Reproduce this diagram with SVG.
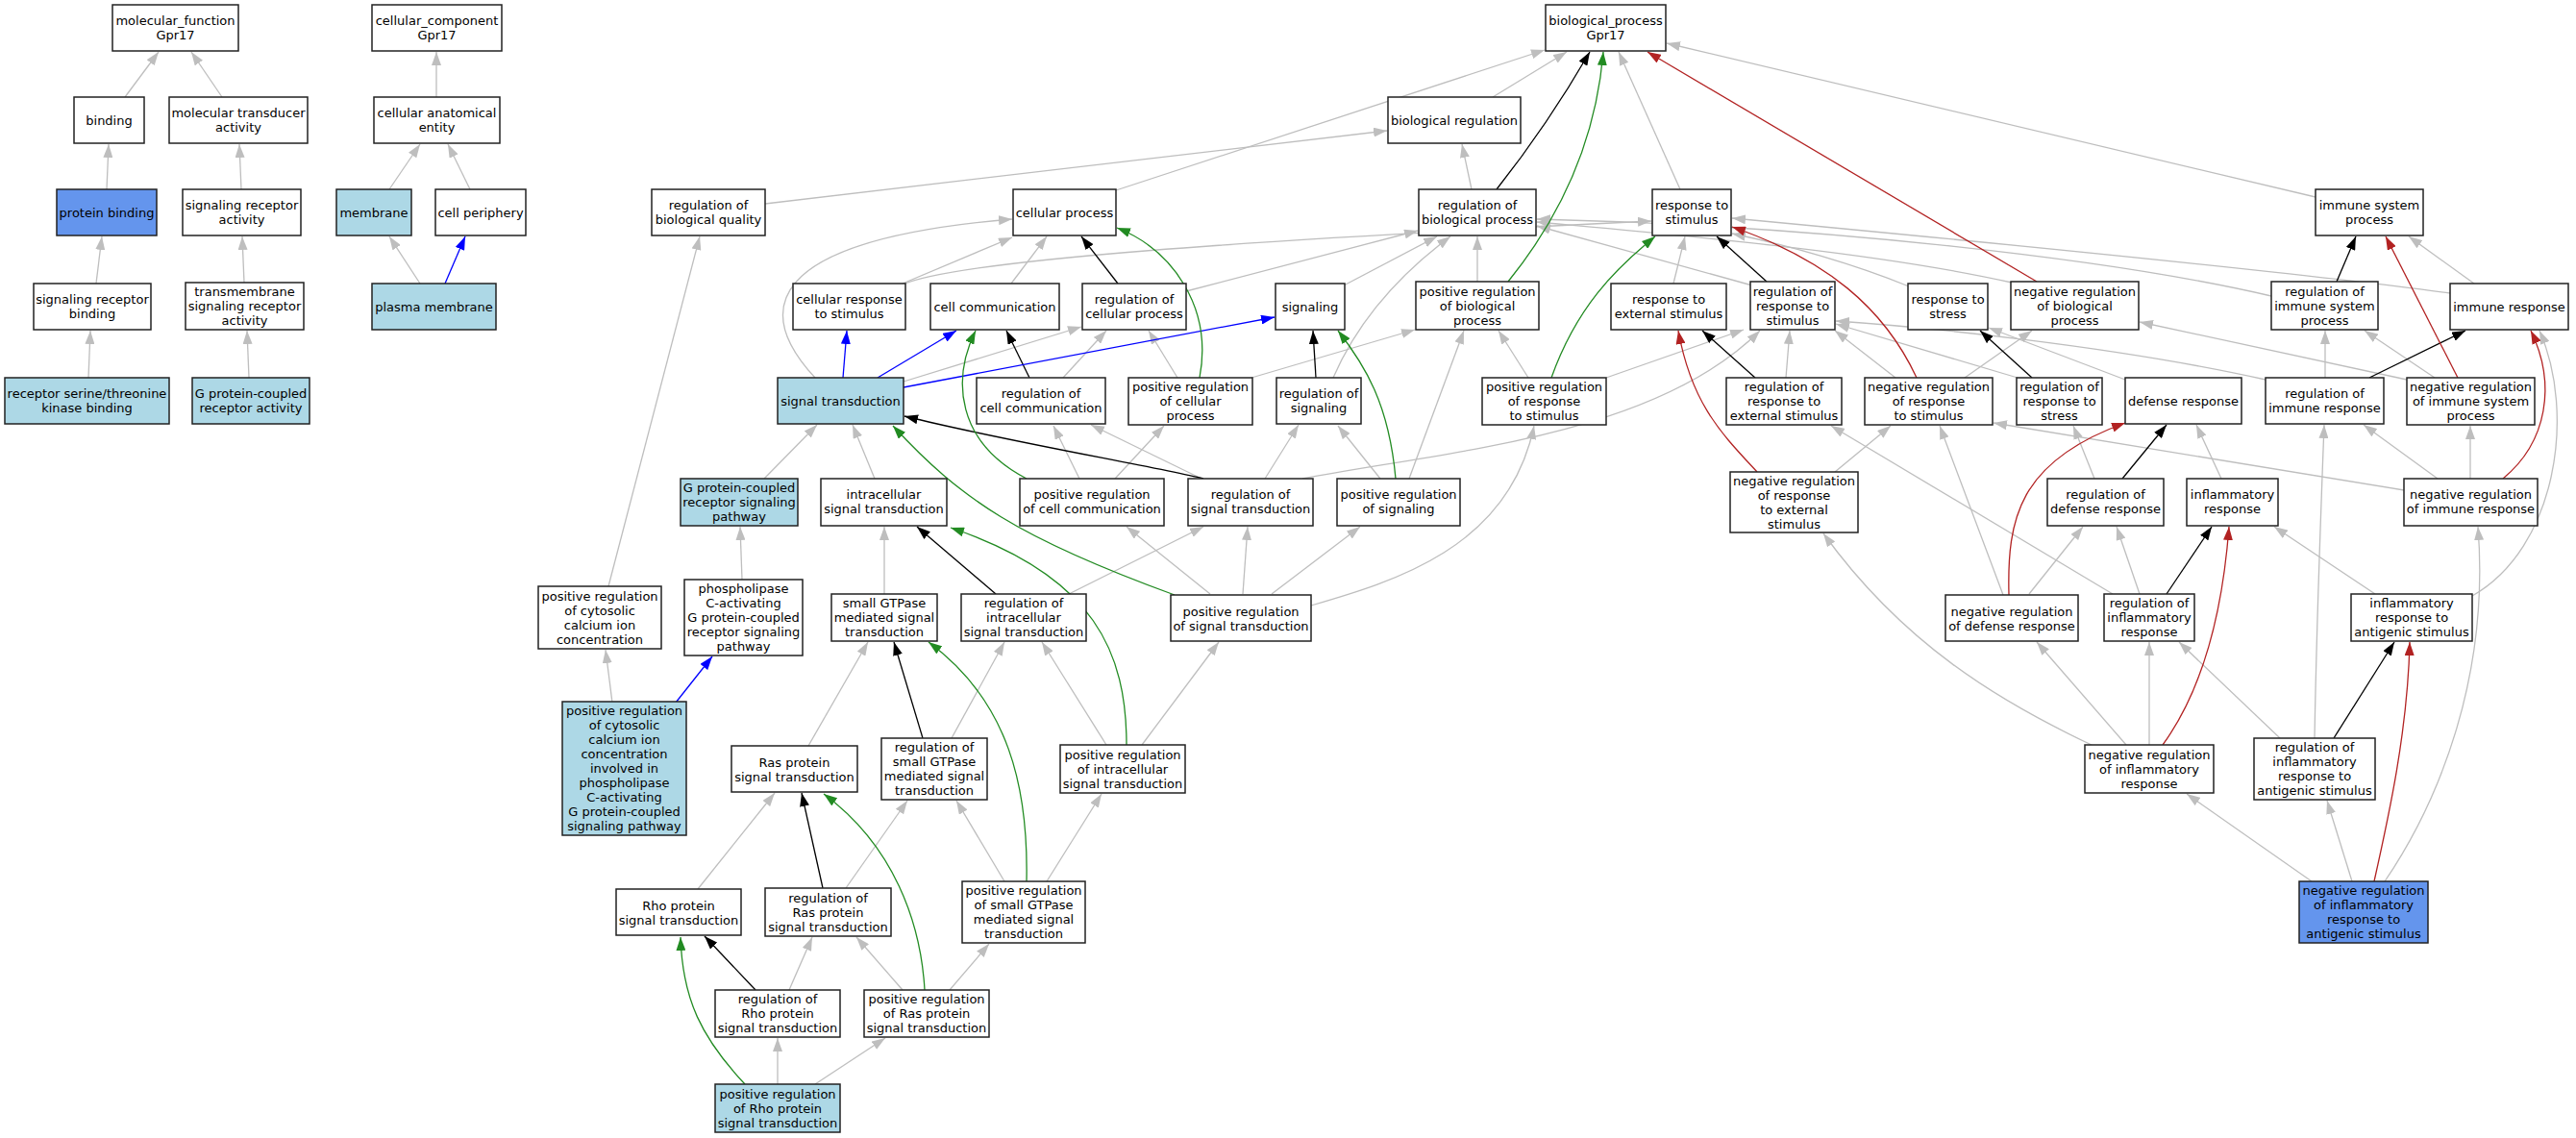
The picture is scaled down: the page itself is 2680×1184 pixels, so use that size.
<svg xmlns="http://www.w3.org/2000/svg" width="2680" height="1184" viewBox="0 0 2680 1184">
<defs>
<style>
.n rect{fill:#fff;stroke:#222;stroke-width:1.5}
.n.lb rect{fill:#ADD8E6}
.n.cb rect{fill:#6495ED}
.n text{font-family:"DejaVu Sans","Liberation Sans",sans-serif;font-size:13px;fill:#000;text-anchor:middle}
#edges path{fill:none;stroke-width:1.3}
#edges .g{stroke:#BEBEBE;marker-end:url(#ag)}
#edges .k{stroke:#000;marker-end:url(#ak)}
#edges .b{stroke:#0000FF;marker-end:url(#ab)}
#edges .gr{stroke:#228B22;marker-end:url(#agr)}
#edges .r{stroke:#B22222;marker-end:url(#ar)}
</style>
<marker id="ag" viewBox="0 0 14 10" refX="14" refY="5" markerWidth="14" markerHeight="10" orient="auto" markerUnits="userSpaceOnUse"><path d="M0,0 L14,5 L0,10 z" fill="#BEBEBE"/></marker>
<marker id="ak" viewBox="0 0 14 10" refX="14" refY="5" markerWidth="14" markerHeight="10" orient="auto" markerUnits="userSpaceOnUse"><path d="M0,0 L14,5 L0,10 z" fill="#000"/></marker>
<marker id="ab" viewBox="0 0 14 10" refX="14" refY="5" markerWidth="14" markerHeight="10" orient="auto" markerUnits="userSpaceOnUse"><path d="M0,0 L14,5 L0,10 z" fill="#0000FF"/></marker>
<marker id="agr" viewBox="0 0 14 10" refX="14" refY="5" markerWidth="14" markerHeight="10" orient="auto" markerUnits="userSpaceOnUse"><path d="M0,0 L14,5 L0,10 z" fill="#228B22"/></marker>
<marker id="ar" viewBox="0 0 14 10" refX="14" refY="5" markerWidth="14" markerHeight="10" orient="auto" markerUnits="userSpaceOnUse"><path d="M0,0 L14,5 L0,10 z" fill="#B22222"/></marker>
</defs>
<rect x="0" y="0" width="2680" height="1184" fill="#fff"/>
<g id="edges">
<path class="g" d="M130,101 L165,54"/>
<path class="g" d="M231,101 L199,54"/>
<path class="g" d="M111,197 L113,150"/>
<path class="g" d="M251,197 L249,150"/>
<path class="g" d="M100,295 L106,246"/>
<path class="g" d="M254,294 L252,246"/>
<path class="g" d="M92,393 L94,344"/>
<path class="g" d="M259,393 L257,344"/>
<path class="g" d="M454,101 L454,54"/>
<path class="g" d="M405,197 L437,150"/>
<path class="g" d="M489,197 L466,150"/>
<path class="g" d="M437,295 L405,246"/>
<path class="g" d="M1553,101 L1630,54"/>
<path class="g" d="M1161,198 L1607,52"/>
<path class="g" d="M796,212 L1443,136"/>
<path class="g" d="M1531,197 L1521,150"/>
<path class="g" d="M1748,197 L1684,54"/>
<path class="g" d="M2409,205 L1734,45"/>
<path class="g" d="M848,393 C785,325 790,250 1053,228"/>
<path class="g" d="M940,397 L1125,340"/>
<path class="g" d="M939,295 L1053,247"/>
<path class="g" d="M939,296 C1000,270 1300,250 1718,230"/>
<path class="g" d="M1052,295 L1089,246"/>
<path class="g" d="M1234,303 L1475,240"/>
<path class="g" d="M1225,393 L1195,344"/>
<path class="g" d="M1302,393 L1472,343"/>
<path class="g" d="M1106,393 L1151,344"/>
<path class="g" d="M1123,498 L1096,443"/>
<path class="g" d="M1160,498 L1211,443"/>
<path class="g" d="M1398,297 L1495,246"/>
<path class="g" d="M1387,393 C1410,340 1450,290 1509,246"/>
<path class="g" d="M1436,498 L1392,443"/>
<path class="g" d="M1466,498 L1523,344"/>
<path class="g" d="M1590,393 L1559,344"/>
<path class="g" d="M1671,393 L1814,343"/>
<path class="g" d="M1537,293 L1537,246"/>
<path class="g" d="M1823,297 L1599,235"/>
<path class="g" d="M2093,294 C1950,262 1750,245 1599,231"/>
<path class="g" d="M2363,308 C2200,270 1900,235 1599,228"/>
<path class="g" d="M2549,305 C2400,285 2100,255 1802,227"/>
<path class="g" d="M1741,295 L1753,246"/>
<path class="g" d="M1986,298 C1930,275 1860,255 1802,243"/>
<path class="g" d="M1858,393 L1862,344"/>
<path class="g" d="M1972,393 L1909,344"/>
<path class="g" d="M1355,498 C1500,470 1720,455 1831,344"/>
<path class="g" d="M2099,393 L1910,337"/>
<path class="g" d="M2357,395 C2200,360 2000,340 1910,334"/>
<path class="g" d="M2044,393 L2114,344"/>
<path class="g" d="M2504,395 L2226,335"/>
<path class="g" d="M2211,395 L2069,341"/>
<path class="g" d="M2311,498 L2285,442"/>
<path class="g" d="M2179,498 L2157,443"/>
<path class="g" d="M2111,618 L2167,548"/>
<path class="g" d="M2226,618 L2202,548"/>
<path class="g" d="M2471,618 L2366,548"/>
<path class="g" d="M2198,618 L1905,443"/>
<path class="g" d="M2084,619 L2018,443"/>
<path class="g" d="M1909,491 L1967,443"/>
<path class="g" d="M2212,775 L2119,668"/>
<path class="g" d="M2236,775 L2236,668"/>
<path class="g" d="M2178,776 C2080,730 1980,670 1897,555"/>
<path class="g" d="M2372,768 L2267,668"/>
<path class="g" d="M2408,768 C2410,650 2415,520 2418,442"/>
<path class="g" d="M2536,498 L2459,442"/>
<path class="g" d="M2570,498 L2570,443"/>
<path class="g" d="M2501,510 L2074,440"/>
<path class="g" d="M2481,917 C2540,830 2590,700 2578,548"/>
<path class="g" d="M2405,917 L2275,826"/>
<path class="g" d="M2447,917 L2421,833"/>
<path class="g" d="M2572,620 C2660,570 2680,430 2642,344"/>
<path class="g" d="M2574,295 L2506,246"/>
<path class="g" d="M2419,393 L2419,344"/>
<path class="g" d="M2533,393 L2460,344"/>
<path class="g" d="M910,498 L887,442"/>
<path class="g" d="M795,498 L850,442"/>
<path class="g" d="M772,603 L770,548"/>
<path class="g" d="M637,731 L630,676"/>
<path class="g" d="M633,610 L728,246"/>
<path class="g" d="M920,618 L920,548"/>
<path class="g" d="M1112,618 L1252,548"/>
<path class="g" d="M1250,498 L1135,442"/>
<path class="g" d="M1316,498 L1351,442"/>
<path class="g" d="M1293,618 L1298,548"/>
<path class="g" d="M1259,618 L1172,548"/>
<path class="g" d="M1323,618 L1415,548"/>
<path class="g" d="M1364,630 C1450,605 1570,570 1596,443"/>
<path class="g" d="M841,776 L903,668"/>
<path class="g" d="M990,768 L1045,668"/>
<path class="g" d="M1045,917 L995,833"/>
<path class="g" d="M1089,917 L1146,826"/>
<path class="g" d="M1151,775 L1084,668"/>
<path class="g" d="M1188,775 L1268,668"/>
<path class="g" d="M726,925 L806,825"/>
<path class="g" d="M880,924 L944,833"/>
<path class="g" d="M939,1030 L891,975"/>
<path class="g" d="M988,1030 L1029,982"/>
<path class="g" d="M821,1030 L845,975"/>
<path class="g" d="M809,1128 L809,1080"/>
<path class="g" d="M848,1128 L921,1080"/>
<path class="k" d="M1557,197 Q1610,130 1654,54"/>
<path class="k" d="M1163,295 L1125,246"/>
<path class="k" d="M1071,393 L1047,344"/>
<path class="k" d="M1369,393 L1366,344"/>
<path class="k" d="M1838,293 L1786,246"/>
<path class="k" d="M1826,393 L1771,344"/>
<path class="k" d="M2114,393 L2060,344"/>
<path class="k" d="M2208,498 L2254,442"/>
<path class="k" d="M2254,618 L2301,548"/>
<path class="k" d="M2428,768 L2491,668"/>
<path class="k" d="M2465,393 L2565,344"/>
<path class="k" d="M2431,293 L2451,246"/>
<path class="k" d="M1036,618 L954,548"/>
<path class="k" d="M1252,498 C1200,485 1050,460 941,433"/>
<path class="k" d="M960,768 L930,668"/>
<path class="k" d="M856,924 L834,825"/>
<path class="k" d="M786,1030 L733,974"/>
<path class="b" d="M463,295 L484,246"/>
<path class="b" d="M877,393 L881,344"/>
<path class="b" d="M913,393 L995,344"/>
<path class="b" d="M940,403 L1326,330"/>
<path class="b" d="M703,731 L741,683"/>
<path class="gr" d="M1569,293 C1620,230 1660,150 1668,54"/>
<path class="gr" d="M1248,393 C1262,320 1220,260 1162,237"/>
<path class="gr" d="M1068,498 C995,460 990,395 1015,344"/>
<path class="gr" d="M1452,498 C1445,420 1420,380 1392,344"/>
<path class="gr" d="M1614,393 C1640,320 1680,280 1722,246"/>
<path class="gr" d="M1172,775 C1172,680 1140,600 989,549"/>
<path class="gr" d="M1222,619 C1060,560 1000,520 929,443"/>
<path class="gr" d="M1068,917 C1070,820 1050,730 966,668"/>
<path class="gr" d="M962,1030 C958,960 930,880 857,826"/>
<path class="gr" d="M775,1128 C730,1080 710,1040 708,975"/>
<path class="r" d="M2119,293 L1714,54"/>
<path class="r" d="M1994,393 C1960,320 1900,270 1802,236"/>
<path class="r" d="M1828,491 C1790,450 1760,420 1746,344"/>
<path class="r" d="M2090,619 C2088,540 2100,480 2211,440"/>
<path class="r" d="M2250,775 C2290,720 2312,640 2319,548"/>
<path class="r" d="M2470,917 C2485,850 2505,760 2507,668"/>
<path class="r" d="M2604,498 C2650,460 2660,400 2633,344"/>
<path class="r" d="M2557,393 L2482,246"/>
</g>
<g id="n_mf" class="n"><rect x="117" y="5" width="131" height="48"/><text><tspan x="182.5" y="26">molecular_function</tspan><tspan x="182.5" y="41">Gpr17</tspan></text></g>
<g id="n_binding" class="n"><rect x="77" y="101" width="73" height="48"/><text x="113.5" y="129.5">binding</text></g>
<g id="n_mta" class="n"><rect x="176" y="101" width="144" height="48"/><text><tspan x="248" y="122">molecular transducer</tspan><tspan x="248" y="137">activity</tspan></text></g>
<g id="n_pb" class="n cb"><rect x="59" y="197" width="104" height="48"/><text x="111" y="225.5">protein binding</text></g>
<g id="n_sra" class="n"><rect x="190" y="197" width="123" height="48"/><text><tspan x="251.5" y="218">signaling receptor</tspan><tspan x="251.5" y="233">activity</tspan></text></g>
<g id="n_srb" class="n"><rect x="35" y="295" width="122" height="48"/><text><tspan x="96" y="316">signaling receptor</tspan><tspan x="96" y="331">binding</tspan></text></g>
<g id="n_tsra" class="n"><rect x="193" y="294" width="123" height="49"/><text><tspan x="254.5" y="308">transmembrane</tspan><tspan x="254.5" y="323">signaling receptor</tspan><tspan x="254.5" y="338">activity</tspan></text></g>
<g id="n_rstkb" class="n lb"><rect x="5" y="393" width="171" height="48"/><text><tspan x="90.5" y="414">receptor serine/threonine</tspan><tspan x="90.5" y="429">kinase binding</tspan></text></g>
<g id="n_gpcra" class="n lb"><rect x="200" y="393" width="122" height="48"/><text><tspan x="261" y="414">G protein-coupled</tspan><tspan x="261" y="429">receptor activity</tspan></text></g>
<g id="n_cc" class="n"><rect x="387" y="5" width="135" height="48"/><text><tspan x="454.5" y="26">cellular_component</tspan><tspan x="454.5" y="41">Gpr17</tspan></text></g>
<g id="n_cae" class="n"><rect x="389" y="101" width="131" height="48"/><text><tspan x="454.5" y="122">cellular anatomical</tspan><tspan x="454.5" y="137">entity</tspan></text></g>
<g id="n_mem" class="n lb"><rect x="350" y="197" width="78" height="48"/><text x="389" y="225.5">membrane</text></g>
<g id="n_cp" class="n"><rect x="453" y="197" width="94" height="48"/><text x="500" y="225.5">cell periphery</text></g>
<g id="n_pm" class="n lb"><rect x="387" y="295" width="129" height="48"/><text x="451.5" y="323.5">plasma membrane</text></g>
<g id="n_bp" class="n"><rect x="1608" y="5" width="125" height="48"/><text><tspan x="1670.5" y="26">biological_process</tspan><tspan x="1670.5" y="41">Gpr17</tspan></text></g>
<g id="n_br" class="n"><rect x="1444" y="101" width="138" height="48"/><text x="1513" y="129.5">biological regulation</text></g>
<g id="n_rbq" class="n"><rect x="678" y="197" width="118" height="48"/><text><tspan x="737" y="218">regulation of</tspan><tspan x="737" y="233">biological quality</tspan></text></g>
<g id="n_cproc" class="n"><rect x="1054" y="197" width="107" height="48"/><text x="1107.5" y="225.5">cellular process</text></g>
<g id="n_rbp" class="n"><rect x="1476" y="197" width="122" height="48"/><text><tspan x="1537" y="218">regulation of</tspan><tspan x="1537" y="233">biological process</tspan></text></g>
<g id="n_rs" class="n"><rect x="1719" y="197" width="82" height="48"/><text><tspan x="1760" y="218">response to</tspan><tspan x="1760" y="233">stimulus</tspan></text></g>
<g id="n_isp" class="n"><rect x="2409" y="197" width="112" height="48"/><text><tspan x="2465" y="218">immune system</tspan><tspan x="2465" y="233">process</tspan></text></g>
<g id="n_crs" class="n"><rect x="825" y="295" width="117" height="48"/><text><tspan x="883.5" y="316">cellular response</tspan><tspan x="883.5" y="331">to stimulus</tspan></text></g>
<g id="n_ccom" class="n"><rect x="968" y="295" width="134" height="48"/><text x="1035" y="323.5">cell communication</text></g>
<g id="n_rcp" class="n"><rect x="1126" y="295" width="108" height="48"/><text><tspan x="1180" y="316">regulation of</tspan><tspan x="1180" y="331">cellular process</tspan></text></g>
<g id="n_sig" class="n"><rect x="1327" y="295" width="72" height="48"/><text x="1363" y="323.5">signaling</text></g>
<g id="n_prbp" class="n"><rect x="1473" y="293" width="128" height="50"/><text><tspan x="1537" y="307.5">positive regulation</tspan><tspan x="1537" y="322.5">of biological</tspan><tspan x="1537" y="337.5">process</tspan></text></g>
<g id="n_rext" class="n"><rect x="1676" y="295" width="120" height="48"/><text><tspan x="1736" y="316">response to</tspan><tspan x="1736" y="331">external stimulus</tspan></text></g>
<g id="n_rrs" class="n"><rect x="1821" y="293" width="88" height="50"/><text><tspan x="1865" y="307.5">regulation of</tspan><tspan x="1865" y="322.5">response to</tspan><tspan x="1865" y="337.5">stimulus</tspan></text></g>
<g id="n_rstress" class="n"><rect x="1985" y="295" width="83" height="48"/><text><tspan x="2026.5" y="316">response to</tspan><tspan x="2026.5" y="331">stress</tspan></text></g>
<g id="n_nrbp" class="n"><rect x="2092" y="293" width="133" height="50"/><text><tspan x="2158.5" y="307.5">negative regulation</tspan><tspan x="2158.5" y="322.5">of biological</tspan><tspan x="2158.5" y="337.5">process</tspan></text></g>
<g id="n_risp" class="n"><rect x="2363" y="293" width="111" height="50"/><text><tspan x="2418.5" y="307.5">regulation of</tspan><tspan x="2418.5" y="322.5">immune system</tspan><tspan x="2418.5" y="337.5">process</tspan></text></g>
<g id="n_ir" class="n"><rect x="2549" y="295" width="123" height="48"/><text x="2610.5" y="323.5">immune response</text></g>
<g id="n_st" class="n lb"><rect x="809" y="393" width="131" height="48"/><text x="874.5" y="421.5">signal transduction</text></g>
<g id="n_rcc" class="n"><rect x="1016" y="393" width="134" height="48"/><text><tspan x="1083" y="414">regulation of</tspan><tspan x="1083" y="429">cell communication</tspan></text></g>
<g id="n_prcp" class="n"><rect x="1174" y="393" width="129" height="49"/><text><tspan x="1238.5" y="407">positive regulation</tspan><tspan x="1238.5" y="422">of cellular</tspan><tspan x="1238.5" y="437">process</tspan></text></g>
<g id="n_rsig" class="n"><rect x="1328" y="393" width="88" height="48"/><text><tspan x="1372" y="414">regulation of</tspan><tspan x="1372" y="429">signaling</tspan></text></g>
<g id="n_prrs" class="n"><rect x="1542" y="393" width="129" height="49"/><text><tspan x="1606.5" y="407">positive regulation</tspan><tspan x="1606.5" y="422">of response</tspan><tspan x="1606.5" y="437">to stimulus</tspan></text></g>
<g id="n_rrext" class="n"><rect x="1796" y="393" width="120" height="49"/><text><tspan x="1856" y="407">regulation of</tspan><tspan x="1856" y="422">response to</tspan><tspan x="1856" y="437">external stimulus</tspan></text></g>
<g id="n_nrrs" class="n"><rect x="1940" y="393" width="133" height="49"/><text><tspan x="2006.5" y="407">negative regulation</tspan><tspan x="2006.5" y="422">of response</tspan><tspan x="2006.5" y="437">to stimulus</tspan></text></g>
<g id="n_rrstress" class="n"><rect x="2098" y="393" width="89" height="49"/><text><tspan x="2142.5" y="407">regulation of</tspan><tspan x="2142.5" y="422">response to</tspan><tspan x="2142.5" y="437">stress</tspan></text></g>
<g id="n_dr" class="n"><rect x="2211" y="393" width="121" height="48"/><text x="2271.5" y="421.5">defense response</text></g>
<g id="n_rir" class="n"><rect x="2357" y="393" width="123" height="48"/><text><tspan x="2418.5" y="414">regulation of</tspan><tspan x="2418.5" y="429">immune response</tspan></text></g>
<g id="n_nrisp" class="n"><rect x="2504" y="393" width="133" height="49"/><text><tspan x="2570.5" y="407">negative regulation</tspan><tspan x="2570.5" y="422">of immune system</tspan><tspan x="2570.5" y="437">process</tspan></text></g>
<g id="n_gpcrsp" class="n lb"><rect x="708" y="498" width="122" height="49"/><text><tspan x="769" y="512">G protein-coupled</tspan><tspan x="769" y="527">receptor signaling</tspan><tspan x="769" y="542">pathway</tspan></text></g>
<g id="n_ist" class="n"><rect x="854" y="498" width="131" height="49"/><text><tspan x="919.5" y="519">intracellular</tspan><tspan x="919.5" y="534">signal transduction</tspan></text></g>
<g id="n_prcc" class="n"><rect x="1061" y="498" width="150" height="49"/><text><tspan x="1136" y="519">positive regulation</tspan><tspan x="1136" y="534">of cell communication</tspan></text></g>
<g id="n_rst" class="n"><rect x="1236" y="498" width="130" height="49"/><text><tspan x="1301" y="519">regulation of</tspan><tspan x="1301" y="534">signal transduction</tspan></text></g>
<g id="n_prsig" class="n"><rect x="1391" y="498" width="128" height="49"/><text><tspan x="1455" y="519">positive regulation</tspan><tspan x="1455" y="534">of signaling</tspan></text></g>
<g id="n_nrrext" class="n"><rect x="1800" y="491" width="133" height="63"/><text><tspan x="1866.5" y="504.5">negative regulation</tspan><tspan x="1866.5" y="519.5">of response</tspan><tspan x="1866.5" y="534.5">to external</tspan><tspan x="1866.5" y="549.5">stimulus</tspan></text></g>
<g id="n_rdr" class="n"><rect x="2130" y="498" width="121" height="49"/><text><tspan x="2190.5" y="519">regulation of</tspan><tspan x="2190.5" y="534">defense response</tspan></text></g>
<g id="n_infr" class="n"><rect x="2275" y="498" width="95" height="49"/><text><tspan x="2322.5" y="519">inflammatory</tspan><tspan x="2322.5" y="534">response</tspan></text></g>
<g id="n_nrir" class="n"><rect x="2501" y="498" width="139" height="49"/><text><tspan x="2570.5" y="519">negative regulation</tspan><tspan x="2570.5" y="534">of immune response</tspan></text></g>
<g id="n_prcca" class="n"><rect x="560" y="610" width="128" height="65"/><text><tspan x="624" y="624.5">positive regulation</tspan><tspan x="624" y="639.5">of cytosolic</tspan><tspan x="624" y="654.5">calcium ion</tspan><tspan x="624" y="669.5">concentration</tspan></text></g>
<g id="n_plc" class="n"><rect x="712" y="603" width="123" height="79"/><text><tspan x="773.5" y="617">phospholipase</tspan><tspan x="773.5" y="632">C-activating</tspan><tspan x="773.5" y="647">G protein-coupled</tspan><tspan x="773.5" y="662">receptor signaling</tspan><tspan x="773.5" y="677">pathway</tspan></text></g>
<g id="n_sgtp" class="n"><rect x="865" y="618" width="110" height="49"/><text><tspan x="920" y="632">small GTPase</tspan><tspan x="920" y="647">mediated signal</tspan><tspan x="920" y="662">transduction</tspan></text></g>
<g id="n_rist" class="n"><rect x="1000" y="618" width="130" height="49"/><text><tspan x="1065" y="632">regulation of</tspan><tspan x="1065" y="647">intracellular</tspan><tspan x="1065" y="662">signal transduction</tspan></text></g>
<g id="n_prst" class="n"><rect x="1218" y="619" width="146" height="48"/><text><tspan x="1291" y="640.5">positive regulation</tspan><tspan x="1291" y="655.5">of signal transduction</tspan></text></g>
<g id="n_nrdr" class="n"><rect x="2024" y="619" width="138" height="48"/><text><tspan x="2093" y="640.5">negative regulation</tspan><tspan x="2093" y="655.5">of defense response</tspan></text></g>
<g id="n_rinfr" class="n"><rect x="2189" y="618" width="94" height="49"/><text><tspan x="2236" y="632">regulation of</tspan><tspan x="2236" y="647">inflammatory</tspan><tspan x="2236" y="662">response</tspan></text></g>
<g id="n_irag" class="n"><rect x="2446" y="618" width="126" height="49"/><text><tspan x="2509" y="632">inflammatory</tspan><tspan x="2509" y="647">response to</tspan><tspan x="2509" y="662">antigenic stimulus</tspan></text></g>
<g id="n_prccaplc" class="n lb"><rect x="585" y="730" width="129" height="139"/><text><tspan x="649.5" y="743.5">positive regulation</tspan><tspan x="649.5" y="758.5">of cytosolic</tspan><tspan x="649.5" y="773.5">calcium ion</tspan><tspan x="649.5" y="788.5">concentration</tspan><tspan x="649.5" y="803.5">involved in</tspan><tspan x="649.5" y="818.5">phospholipase</tspan><tspan x="649.5" y="833.5">C-activating</tspan><tspan x="649.5" y="848.5">G protein-coupled</tspan><tspan x="649.5" y="863.5">signaling pathway</tspan></text></g>
<g id="n_ras" class="n"><rect x="761" y="776" width="131" height="48"/><text><tspan x="826.5" y="797.5">Ras protein</tspan><tspan x="826.5" y="812.5">signal transduction</tspan></text></g>
<g id="n_rsgtp" class="n"><rect x="917" y="768" width="110" height="64"/><text><tspan x="972" y="782">regulation of</tspan><tspan x="972" y="797">small GTPase</tspan><tspan x="972" y="812">mediated signal</tspan><tspan x="972" y="827">transduction</tspan></text></g>
<g id="n_prist" class="n"><rect x="1103" y="775" width="130" height="50"/><text><tspan x="1168" y="789.5">positive regulation</tspan><tspan x="1168" y="804.5">of intracellular</tspan><tspan x="1168" y="819.5">signal transduction</tspan></text></g>
<g id="n_nrinfr" class="n"><rect x="2169" y="775" width="134" height="50"/><text><tspan x="2236" y="789.5">negative regulation</tspan><tspan x="2236" y="804.5">of inflammatory</tspan><tspan x="2236" y="819.5">response</tspan></text></g>
<g id="n_rirag" class="n"><rect x="2345" y="768" width="126" height="64"/><text><tspan x="2408" y="782">regulation of</tspan><tspan x="2408" y="797">inflammatory</tspan><tspan x="2408" y="812">response to</tspan><tspan x="2408" y="827">antigenic stimulus</tspan></text></g>
<g id="n_rho" class="n"><rect x="641" y="925" width="130" height="48"/><text><tspan x="706" y="946.5">Rho protein</tspan><tspan x="706" y="961.5">signal transduction</tspan></text></g>
<g id="n_rras" class="n"><rect x="796" y="924" width="131" height="50"/><text><tspan x="861.5" y="938.5">regulation of</tspan><tspan x="861.5" y="953.5">Ras protein</tspan><tspan x="861.5" y="968.5">signal transduction</tspan></text></g>
<g id="n_prsgtp" class="n"><rect x="1001" y="917" width="128" height="64"/><text><tspan x="1065" y="931">positive regulation</tspan><tspan x="1065" y="946">of small GTPase</tspan><tspan x="1065" y="961">mediated signal</tspan><tspan x="1065" y="976">transduction</tspan></text></g>
<g id="n_nrirag" class="n cb"><rect x="2392" y="917" width="134" height="64"/><text><tspan x="2459" y="931">negative regulation</tspan><tspan x="2459" y="946">of inflammatory</tspan><tspan x="2459" y="961">response to</tspan><tspan x="2459" y="976">antigenic stimulus</tspan></text></g>
<g id="n_rrho" class="n"><rect x="744" y="1030" width="130" height="49"/><text><tspan x="809" y="1044">regulation of</tspan><tspan x="809" y="1059">Rho protein</tspan><tspan x="809" y="1074">signal transduction</tspan></text></g>
<g id="n_prras" class="n"><rect x="899" y="1030" width="130" height="49"/><text><tspan x="964" y="1044">positive regulation</tspan><tspan x="964" y="1059">of Ras protein</tspan><tspan x="964" y="1074">signal transduction</tspan></text></g>
<g id="n_prrho" class="n lb"><rect x="744" y="1128" width="130" height="50"/><text><tspan x="809" y="1142.5">positive regulation</tspan><tspan x="809" y="1157.5">of Rho protein</tspan><tspan x="809" y="1172.5">signal transduction</tspan></text></g>
</svg>
